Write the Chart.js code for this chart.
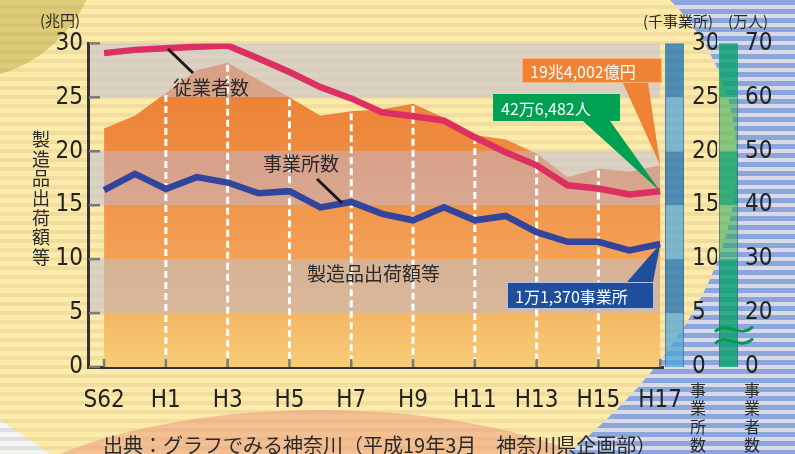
<!DOCTYPE html>
<html>
<head>
<meta charset="utf-8">
<script src="https://cdn.jsdelivr.net/npm/chart.js@4.4.0/dist/chart.umd.min.js"></script>
<style>
html, body { margin: 0; padding: 0; background: #fdeba9; }
</style>
</head>
<body>
<canvas id="myChart" width="795" height="454"></canvas>
<script>
// Data
const years = ['S62', 'S63', 'H1', 'H2', 'H3', 'H4', 'H5', 'H6', 'H7', 'H8', 'H9', 'H10', 'H11', 'H12', 'H13', 'H14', 'H15', 'H16', 'H17'];
const shipments = [22.1, 23.3, 25.4, 27.5, 28.2, 26.6, 25.0, 23.3, 23.7, 23.9, 24.4, 23.1, 21.5, 21.1, 19.8, 17.6, 18.4, 18.1, 18.7]; // 兆円
const workers = [68.2, 68.8, 69.1, 69.4, 69.6, 67.2, 64.7, 61.9, 59.8, 57.2, 56.5, 55.7, 52.6, 49.8, 47.4, 43.7, 43.1, 42.0, 42.6]; // 万人
const offices = [16.4, 17.9, 16.5, 17.6, 17.1, 16.1, 16.3, 14.8, 15.3, 14.2, 13.6, 14.8, 13.6, 14.0, 12.5, 11.6, 11.6, 10.8, 11.4]; // 千事業所
const leftTicks = [0, 5, 10, 15, 20, 25, 30];
const officeTicks = [0, 5, 10, 15, 20, 25, 30];
// worker axis is broken below 20: the "0" label sits at the break
const workerTickValues = [10, 20, 30, 40, 50, 60, 70];
const workerTickLabels = ['0', '20', '30', '40', '50', '60', '70'];

const numFont = "'DejaVu Sans Condensed', 'Liberation Sans Narrow', sans-serif";
const jpFont = "'Noto Sans CJK JP', sans-serif";

function stripes(ctx, c1, c2) {
    for (let y = 0; y < 454; y += 9) {
        ctx.fillStyle = c1;
        ctx.fillRect(0, y, 795, 5);
        ctx.fillStyle = c2;
        ctx.fillRect(0, y + 5, 795, 4);
    }
}

function bluePath(ctx) {
    ctx.beginPath();
    ctx.moveTo(670, 0);
    ctx.bezierCurveTo(780, 110, 760, 300, 567, 454);
    ctx.lineTo(795, 454);
    ctx.lineTo(795, 0);
    ctx.closePath();
}

function areaFill(context) {
    const chart = context.chart;
    const ys = chart.scales.y;
    if (!chart.chartArea || !ys) return '#f2a052';
    const g = chart.ctx.createLinearGradient(0, ys.getPixelForValue(0), 0, ys.getPixelForValue(30));
    const stops = [
        [0, '#f8cc78'], [5, '#f5b764'],
        [5, '#dab89b'], [10, '#d7b294'],
        [10, '#f3a258'], [15, '#f1964b'],
        [15, '#d9a891'], [20, '#d8a088'],
        [20, '#ee8c40'], [25, '#ec8238'],
        [25, '#d9a389'], [30, '#d89e86']
    ];
    stops.forEach(s => g.addColorStop(s[0] / 30, s[1]));
    return g;
}

function callout(ctx, box, base, tip, color, text, border) {
    ctx.fillStyle = color;
    ctx.beginPath();
    ctx.moveTo(base[0], base[2]);
    ctx.lineTo(base[1], base[2]);
    ctx.lineTo(tip.x, tip.y);
    ctx.closePath();
    ctx.fill();
    ctx.fillRect(box[0], box[1], box[2], box[3]);
    if (border) {
        ctx.strokeStyle = border;
        ctx.lineWidth = 1;
        ctx.strokeRect(box[0] + 0.5, box[1] + 0.5, box[2] - 1, box[3] - 1);
    }
    ctx.fillStyle = '#ffffff';
    ctx.font = '16px ' + jpFont;
    ctx.textAlign = 'left';
    ctx.textBaseline = 'middle';
    ctx.fillText(text, box[0] + 8, box[1] + box[3] / 2 + 1);
}

function tilde(ctx, x, y) {
    ctx.beginPath();
    ctx.moveTo(x, y + 3);
    ctx.bezierCurveTo(x + 12, y - 9, x + 24, y + 11, x + 38, y - 2);
    ctx.stroke();
}

function verticalText(ctx, text, x, y0, step) {
    for (let i = 0; i < text.length; i++) {
        ctx.fillText(text[i], x, y0 + i * step);
    }
}

const deco = {
    id: 'deco',
    beforeDraw(chart) {
        const ctx = chart.ctx;
        ctx.save();
        stripes(ctx, '#fdeba9', '#f1dd9f');
        // olive corner
        ctx.fillStyle = 'rgba(165,155,40,0.38)';
        ctx.beginPath();
        ctx.arc(-40, -60, 140, 0, Math.PI * 2);
        ctx.fill();
        // peach ellipse at the bottom
        ctx.fillStyle = 'rgba(230,140,118,0.45)';
        ctx.beginPath();
        ctx.ellipse(320, 560, 368, 150, 0, 0, Math.PI * 2);
        ctx.fill();
        // pale corner bottom-left
        ctx.save();
        ctx.beginPath();
        ctx.moveTo(0, 420);
        ctx.lineTo(50, 454);
        ctx.lineTo(0, 454);
        ctx.closePath();
        ctx.clip();
        stripes(ctx, '#f6f6f4', '#dedfe2');
        ctx.restore();
        // blue striped region on the right
        ctx.save();
        bluePath(ctx);
        ctx.clip();
        stripes(ctx, '#8aa6dc', '#d8dbe5');
        ctx.restore();
        ctx.restore();
    },
    beforeDatasetsDraw(chart) {
        const ctx = chart.ctx;
        const ys = chart.scales.y;
        const area = chart.chartArea;
        ctx.save();
        // grey bands in the plot
        ctx.fillStyle = 'rgba(205,200,205,0.7)';
        [[5, 10], [15, 20], [25, 30]].forEach(b => {
            const t = ys.getPixelForValue(b[1]);
            const h = ys.getPixelForValue(b[0]) - t;
            ctx.fillRect(area.left + 2, t, area.right - area.left - 5, h);
        });
        // colour bars of the two right axes
        const y1 = chart.scales.y1;
        const y2 = chart.scales.y2;
        for (let k = 0; k < 6; k++) {
            const t = ys.getPixelForValue((k + 1) * 5);
            const h = ys.getPixelForValue(k * 5) - t;
            const dark = k % 2 === 1;
            ctx.fillStyle = dark ? 'rgba(40,120,180,0.82)' : 'rgba(80,165,215,0.75)';
            ctx.fillRect(y1.left + 2, t, 19, h);
            ctx.fillStyle = (dark || k === 0) ? 'rgba(10,160,110,0.82)' : 'rgba(40,170,90,0.55)';
            ctx.fillRect(y2.left + 2, t, 19, h);
        }
        ctx.strokeStyle = 'rgba(90,80,150,0.6)';
        ctx.lineWidth = 1;
        [y1.left + 2.5, y1.left + 20.5, y2.left + 2.5, y2.left + 20.5].forEach(x => {
            ctx.beginPath();
            ctx.moveTo(x, ys.getPixelForValue(25));
            ctx.lineTo(x, ys.getPixelForValue(0));
            ctx.stroke();
        });
        // axis break on the worker axis
        ctx.strokeStyle = '#009a50';
        ctx.lineWidth = 3;
        const by = y2.getPixelForValue(16);
        tilde(ctx, y2.left - 2, by - 6);
        tilde(ctx, y2.left - 2, by + 6);
        ctx.restore();
    },
    afterDatasetDraw(chart, args) {
        if (args.index !== 2) return;
        const ctx = chart.ctx;
        const xs = chart.scales.x;
        const ys = chart.scales.y;
        ctx.save();
        // white dashed year lines
        ctx.strokeStyle = '#ffffff';
        ctx.lineWidth = 3;
        ctx.setLineDash([7, 4]);
        for (let i = 2; i < years.length - 1; i += 2) {
            const x = xs.getPixelForValue(i);
            ctx.beginPath();
            ctx.moveTo(x, ys.getPixelForValue(shipments[i]) + 2);
            ctx.lineTo(x, ys.bottom - 6);
            ctx.stroke();
        }
        ctx.setLineDash([]);
        // small inner ticks
        ctx.strokeStyle = '#7a7a7a';
        ctx.lineWidth = 2.5;
        for (let i = 0; i < years.length; i += 2) {
            const x = xs.getPixelForValue(i);
            ctx.beginPath();
            ctx.moveTo(x, ys.bottom - 8);
            ctx.lineTo(x, ys.bottom);
            ctx.stroke();
        }
        leftTicks.forEach(v => {
            const y = ys.getPixelForValue(v);
            ctx.beginPath();
            ctx.moveTo(xs.left + 1, y);
            ctx.lineTo(xs.left + 12, y);
            ctx.stroke();
        });
        ctx.restore();
    },
    afterDatasetsDraw(chart) {
        const ctx = chart.ctx;
        const last = years.length - 1;
        const tipArea = chart.getDatasetMeta(2).data[last];
        const tipWorkers = chart.getDatasetMeta(0).data[last];
        const tipOffices = chart.getDatasetMeta(1).data[last];
        ctx.save();
        callout(ctx, [522, 58, 140, 25], [623, 648, 83], tipArea, '#ef8233', '19兆4,002億円', 'rgba(255,215,170,0.6)');
        callout(ctx, [493, 94, 127, 27], [583, 610, 121], tipWorkers, '#00a153', '42万6,482人', null);
        callout(ctx, [507, 282, 147, 27], [627, 653, 282], tipOffices, '#1f4e9c', '1万1,370事業所', 'rgba(190,205,235,0.9)');

        // leader lines
        ctx.strokeStyle = '#1a1a1a';
        ctx.lineWidth = 3;
        ctx.beginPath();
        ctx.moveTo(168, 49);
        ctx.lineTo(193, 73);
        ctx.moveTo(317, 179);
        ctx.lineTo(342, 203);
        ctx.stroke();

        // series names
        ctx.fillStyle = '#2a2a2a';
        ctx.font = '19px ' + jpFont;
        ctx.textAlign = 'left';
        ctx.textBaseline = 'middle';
        ctx.fillText('従業者数', 173, 88);
        ctx.fillText('事業所数', 263, 164);
        ctx.fillText('製造品出荷額等', 307, 274);

        // unit labels
        ctx.font = '15px ' + jpFont;
        ctx.fillText('(兆円)', 40, 20);
        ctx.fillText('(千事業所)', 643, 21);
        ctx.fillText('(万人)', 728, 21);

        // vertical axis names
        ctx.textAlign = 'center';
        ctx.font = '18px ' + jpFont;
        verticalText(ctx, '製造品出荷額等', 41, 139, 19.7);
        ctx.font = '16px ' + jpFont;
        verticalText(ctx, '事業所数', 698, 390, 18.3);
        verticalText(ctx, '事業者数', 752, 390, 18.3);

        // source
        ctx.textAlign = 'left';
        ctx.textBaseline = 'alphabetic';
        ctx.font = '20px ' + jpFont;
        ctx.fillText('出典：グラフでみる神奈川（平成19年3月　神奈川県企画部）', 103, 453);
        ctx.restore();
    }
};

const ctx = document.getElementById('myChart').getContext('2d');
const myChart = new Chart(ctx, {
    type: 'line',
    data: {
        datasets: [
            {
                label: '従業者数',
                data: workers.map((v, i) => ({x: i, y: v})),
                yAxisID: 'y2',
                borderColor: '#dc3063',
                borderWidth: 6.5,
                pointRadius: 0,
                fill: false,
                order: 0
            },
            {
                label: '事業所数',
                data: offices.map((v, i) => ({x: i, y: v})),
                yAxisID: 'y1',
                borderColor: '#33449c',
                borderWidth: 6.5,
                pointRadius: 0,
                fill: false,
                order: 1
            },
            {
                label: '製造品出荷額等',
                data: shipments.map((v, i) => ({x: i, y: v})),
                yAxisID: 'y',
                borderWidth: 0,
                borderColor: 'rgba(0,0,0,0)',
                backgroundColor: areaFill,
                pointRadius: 0,
                fill: 'origin',
                order: 2
            }
        ]
    },
    options: {
        responsive: false,
        animation: false,
        layout: { padding: { top: 43, left: 0, right: 0, bottom: 0 } },
        plugins: {
            legend: { display: false },
            tooltip: { enabled: false }
        },
        scales: {
            x: {
                type: 'linear',
                min: -0.52,
                max: 18.09,
                z: 1,
                grid: { display: false, drawTicks: false },
                border: { display: true, color: '#333333', width: 3 },
                afterBuildTicks: scale => {
                    scale.ticks = years.map((y, i) => ({value: i})).filter(t => t.value % 2 === 0);
                },
                afterFit: scale => { scale.height = 87; },
                ticks: {
                    autoSkip: false,
                    maxRotation: 0,
                    padding: 19,
                    color: '#222222',
                    font: { family: numFont, size: 24 },
                    callback: v => years[v]
                }
            },
            y: {
                position: 'left',
                min: 0,
                max: 30,
                grid: { display: false, drawTicks: false },
                border: { display: true, color: '#333333', width: 3 },
                afterBuildTicks: scale => { scale.ticks = leftTicks.map(v => ({value: v})); },
                afterFit: scale => { scale.width = 88; },
                ticks: {
                    padding: 5,
                    color: '#222222',
                    font: { family: numFont, size: 24 }
                }
            },
            y1: {
                position: 'right',
                weight: 0,
                min: 0,
                max: 30,
                grid: { display: false, drawTicks: false },
                border: { display: false },
                afterBuildTicks: scale => { scale.ticks = officeTicks.map(v => ({value: v})); },
                afterFit: scale => { scale.width = 54; },
                ticks: {
                    padding: 29,
                    color: '#222222',
                    font: { family: numFont, size: 24 }
                }
            },
            y2: {
                position: 'right',
                weight: 1,
                min: 10,
                max: 70,
                grid: { display: false, drawTicks: false },
                border: { display: false },
                afterBuildTicks: scale => { scale.ticks = workerTickValues.map(v => ({value: v})); },
                afterFit: scale => { scale.width = 78; },
                ticks: {
                    padding: 28,
                    color: '#222222',
                    font: { family: numFont, size: 24 },
                    callback: (v, i) => workerTickLabels[i]
                }
            }
        }
    },
    plugins: [deco]
});
</script>
</body>
</html>
